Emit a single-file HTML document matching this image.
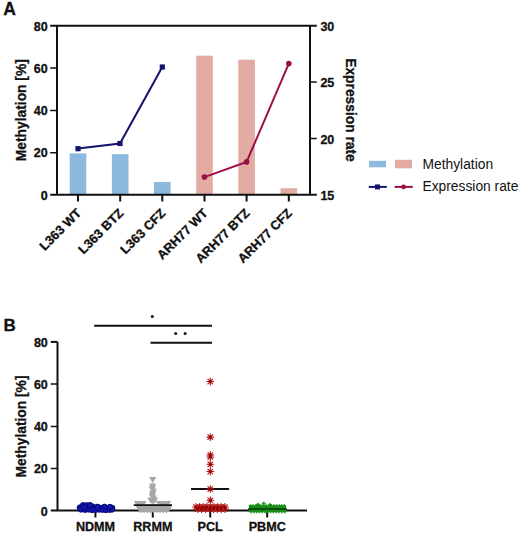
<!DOCTYPE html>
<html><head><meta charset="utf-8">
<style>
html,body{margin:0;padding:0;background:#fff;}
body{width:520px;height:534px;overflow:hidden;}
svg{display:block;}
text{font-family:"Liberation Sans",sans-serif;}
.b{font-weight:bold;fill:#111;stroke:#111;stroke-width:0.3px;}
.r{fill:#111;}
</style></head>
<body>
<svg width="520" height="534" viewBox="0 0 520 534">
<!-- Panel A -->
<text class="b" x="3.2" y="14.8" font-size="17.5">A</text>

<!-- bars -->
<g fill="#8cb9dd">
<rect x="69.7" y="153.4" width="16.6" height="41.4"/>
<rect x="111.9" y="154.2" width="16.6" height="40.6"/>
<rect x="154" y="182" width="16.6" height="12.8"/>
</g>
<g fill="#e2aca2">
<rect x="196.2" y="55.7" width="16.6" height="139.1"/>
<rect x="238.3" y="59.7" width="16.6" height="135.1"/>
<rect x="280.5" y="188.2" width="16.6" height="6.6"/>
</g>

<!-- axes A -->
<g stroke="#111" stroke-width="2" fill="none">
<path d="M57 25.8V194.8 M310 25.8V194.8 M50.2 25.8H316.8 M50.2 194.8H316.8"/>
<path d="M50.2 68.1H57 M50.2 110.5H57 M50.2 152.7H57" stroke-width="1.5"/>
<path d="M310 82.1H316.8 M310 138.5H316.8" stroke-width="1.5"/>
<path d="M78 194.8V201.6 M120.2 194.8V201.6 M162.3 194.8V201.6 M204.5 194.8V201.6 M246.6 194.8V201.6 M288.8 194.8V201.6"/>
</g>

<!-- lines A -->
<polyline points="78,148.6 120,143.5 162.3,67" fill="none" stroke="#14146e" stroke-width="2"/>
<g fill="#14146e">
<rect x="75.4" y="146.1" width="5.2" height="5.2"/>
<rect x="117.4" y="140.9" width="5.2" height="5.2"/>
<rect x="159.7" y="64.4" width="5.2" height="5.2"/>
</g>
<polyline points="204.4,177.1 246.6,161.9 288.8,63.6" fill="none" stroke="#9c1048" stroke-width="2"/>
<g fill="#9c1048">
<circle cx="204.4" cy="177.1" r="2.8"/>
<circle cx="246.6" cy="161.9" r="2.8"/>
<circle cx="288.8" cy="63.6" r="2.8"/>
</g>

<!-- tick labels A left -->
<g class="b" font-size="12.5" text-anchor="end">
<text x="47.6" y="30.8">80</text>
<text x="47.6" y="72.9">60</text>
<text x="47.6" y="115.1">40</text>
<text x="47.6" y="157.4">20</text>
<text x="47.6" y="199.8">0</text>
</g>
<g class="b" font-size="12.5">
<text x="320.4" y="30.8">30</text>
<text x="320.4" y="87.1">25</text>
<text x="320.4" y="143.5">20</text>
<text x="320.4" y="199.8">15</text>
</g>

<!-- axis titles A -->
<text class="b" font-size="13.8" text-anchor="middle" transform="translate(26,110.2) rotate(-90)">Methylation [%]</text>
<text class="b" font-size="13.8" text-anchor="middle" transform="translate(345.5,110) rotate(90)">Expression rate</text>

<!-- x labels A -->
<g class="b" font-size="12.8" text-anchor="end">
<text transform="translate(82,214) rotate(-45)">L363 WT</text>
<text transform="translate(124.2,214) rotate(-45)">L363 BTZ</text>
<text transform="translate(166.3,214) rotate(-45)">L363 CFZ</text>
<text transform="translate(208.5,214) rotate(-45)">ARH77 WT</text>
<text transform="translate(250.6,214) rotate(-45)">ARH77 BTZ</text>
<text transform="translate(292.8,214) rotate(-45)">ARH77 CFZ</text>
</g>

<!-- legend -->
<rect x="369" y="160.8" width="17" height="6.5" fill="#8cb9dd"/>
<rect x="395" y="159.8" width="17" height="8.5" fill="#e2aca2"/>
<path d="M368.7 186.9H386.8" stroke="#14146e" stroke-width="2"/>
<rect x="375" y="184.4" width="5" height="5" fill="#14146e"/>
<path d="M394.6 186.9H412.8" stroke="#9c1048" stroke-width="2"/>
<circle cx="403.6" cy="186.9" r="2.4" fill="#9c1048"/>
<g class="r" font-size="13.8">
<text x="422.5" y="168.8">Methylation</text>
<text x="422.5" y="190.8">Expression rate</text>
</g>

<!-- Panel B -->
<text class="b" x="3.6" y="331" font-size="17">B</text>

<!-- significance -->
<g stroke="#111" stroke-width="2">
<path d="M94.2 325.7H212 M150.5 342.7H212"/>
</g>
<g fill="#111">
<circle cx="152.3" cy="316.5" r="1.5"/>
<circle cx="175.7" cy="333.6" r="1.5"/>
<circle cx="185.1" cy="333.6" r="1.5"/>
</g>

<!-- axes B -->
<g stroke="#111" stroke-width="2" fill="none">
<path d="M57.5 341.9V510.6 M50.8 510.6H307"/>
<path d="M50.8 341.9H57.5" stroke-width="2"/><path d="M50.8 384.1H57.5 M50.8 426.4H57.5 M50.8 468.5H57.5" stroke-width="1.5"/>
<path d="M95.4 510.6V517.4 M152.8 510.6V517.4 M210.2 510.6V517.4 M267.2 510.6V517.4"/>
</g>

<g class="b" font-size="12.5" text-anchor="end">
<text x="47.8" y="346.9">80</text>
<text x="47.8" y="389.1">60</text>
<text x="47.8" y="431.3">40</text>
<text x="47.8" y="473.4">20</text>
<text x="47.8" y="515.6">0</text>
</g>
<text class="b" font-size="13.8" text-anchor="middle" transform="translate(26,426.5) rotate(-90)">Methylation [%]</text>

<g class="b" font-size="12.6" text-anchor="middle">
<text x="95.5" y="530.8">NDMM</text>
<text x="152.8" y="530.8">RRMM</text>
<text x="210.2" y="530.8">PCL</text>
<text x="267.2" y="530.8">PBMC</text>
</g>

<!--BDATA-->
<g fill="#1414b8" stroke="#06066c" stroke-width="0.9"><circle cx="79.8" cy="507.5" r="2.7"/><circle cx="83" cy="505.2" r="2.7"/><circle cx="86.5" cy="505.3" r="2.7"/><circle cx="89.5" cy="505.6" r="2.7"/><circle cx="92.5" cy="506.5" r="2.7"/><circle cx="96" cy="507.8" r="2.7"/><circle cx="99.5" cy="507.8" r="2.7"/><circle cx="103" cy="507.8" r="2.7"/><circle cx="106.5" cy="508.2" r="2.7"/><circle cx="109.5" cy="507.6" r="2.7"/><circle cx="112.3" cy="508" r="2.7"/><circle cx="81" cy="509.5" r="2.7"/><circle cx="85" cy="509.8" r="2.7"/><circle cx="88.5" cy="509.5" r="2.7"/><circle cx="92" cy="510" r="2.7"/><circle cx="95.5" cy="509.8" r="2.7"/><circle cx="99" cy="509.6" r="2.7"/><circle cx="102.5" cy="509.8" r="2.7"/><circle cx="106" cy="510" r="2.7"/><circle cx="109.5" cy="509.8" r="2.7"/><circle cx="112" cy="509.5" r="2.7"/><circle cx="90" cy="505.2" r="2.7"/><circle cx="84.5" cy="507.5" r="2.7"/><circle cx="97.5" cy="506.8" r="2.7"/><circle cx="104.5" cy="506.8" r="2.7"/><circle cx="110" cy="507" r="2.7"/></g>
<path fill="#a6a6a6" d="M149.1 477h7.2l-3.6 6.2zM149.1 483.5h7.2l-3.6 6.2zM148.6 486h7.2l-3.6 6.2zM149.6 488.5h7.2l-3.6 6.2zM149.1 491h7.2l-3.6 6.2zM148.6 493.5h7.2l-3.6 6.2zM149.6 495.5h7.2l-3.6 6.2zM147.2 497.5h7.2l-3.6 6.2zM151.0 497.5h7.2l-3.6 6.2zM149.1 498.5h7.2l-3.6 6.2zM133.9 501.1h7.2l-3.6 6.2zM136.9 501.1h7.2l-3.6 6.2zM139.4 501.1h7.2l-3.6 6.2zM155.9 501.1h7.2l-3.6 6.2zM158.9 501.1h7.2l-3.6 6.2zM161.9 501.1h7.2l-3.6 6.2zM163.9 501.1h7.2l-3.6 6.2zM134.9 504.5h7.2l-3.6 6.2zM138.1 504.5h7.2l-3.6 6.2zM141.3 504.5h7.2l-3.6 6.2zM144.5 504.5h7.2l-3.6 6.2zM147.7 504.5h7.2l-3.6 6.2zM150.9 504.5h7.2l-3.6 6.2zM154.1 504.5h7.2l-3.6 6.2zM157.3 504.5h7.2l-3.6 6.2zM160.5 504.5h7.2l-3.6 6.2zM163.7 504.5h7.2l-3.6 6.2zM136.1 506.2h7.2l-3.6 6.2zM139.3 506.2h7.2l-3.6 6.2zM142.5 506.2h7.2l-3.6 6.2zM145.7 506.2h7.2l-3.6 6.2zM148.9 506.2h7.2l-3.6 6.2zM152.1 506.2h7.2l-3.6 6.2zM155.3 506.2h7.2l-3.6 6.2zM158.5 506.2h7.2l-3.6 6.2zM161.7 506.2h7.2l-3.6 6.2zM164.9 506.2h7.2l-3.6 6.2zM137.3 507.4h7.2l-3.6 6.2zM140.5 507.4h7.2l-3.6 6.2zM143.7 507.4h7.2l-3.6 6.2zM146.9 507.4h7.2l-3.6 6.2zM150.1 507.4h7.2l-3.6 6.2zM153.3 507.4h7.2l-3.6 6.2zM156.5 507.4h7.2l-3.6 6.2zM159.7 507.4h7.2l-3.6 6.2zM162.9 507.4h7.2l-3.6 6.2z"/>
<path d="M133.7 505.1H172" stroke="#111" stroke-width="1.8"/>
<path d="M191 489.1H229.1" stroke="#111" stroke-width="2"/>
<path stroke="#b41818" stroke-width="1.15" stroke-linecap="round" fill="none" d="M206.9 381.5h6.8M210.3 378.1v6.8M207.9 379.1l4.8 4.8M207.9 383.9l4.8 -4.8M206.9 437.1h6.8M210.3 433.7v6.8M207.9 434.7l4.8 4.8M207.9 439.5l4.8 -4.8M206.9 455h6.8M210.3 451.6v6.8M207.9 452.6l4.8 4.8M207.9 457.4l4.8 -4.8M206.9 457h6.8M210.3 453.6v6.8M207.9 454.6l4.8 4.8M207.9 459.4l4.8 -4.8M206.9 464.2h6.8M210.3 460.8v6.8M207.9 461.8l4.8 4.8M207.9 466.6l4.8 -4.8M206.9 471.5h6.8M210.3 468.1v6.8M207.9 469.1l4.8 4.8M207.9 473.9l4.8 -4.8M206.9 489h6.8M210.3 485.6v6.8M207.9 486.6l4.8 4.8M207.9 491.4l4.8 -4.8M206.9 500.2h6.8M210.3 496.8v6.8M207.9 497.8l4.8 4.8M207.9 502.6l4.8 -4.8M192.6 507.0h6.8M196 503.6v6.8M193.6 504.6l4.8 4.8M193.6 509.4l4.8 -4.8M196.2 507.0h6.8M199.6 503.6v6.8M197.2 504.6l4.8 4.8M197.2 509.4l4.8 -4.8M199.8 507.0h6.8M203.2 503.6v6.8M200.8 504.6l4.8 4.8M200.8 509.4l4.8 -4.8M203.4 507.0h6.8M206.8 503.6v6.8M204.4 504.6l4.8 4.8M204.4 509.4l4.8 -4.8M207.0 507.0h6.8M210.4 503.6v6.8M208.0 504.6l4.8 4.8M208.0 509.4l4.8 -4.8M210.6 507.0h6.8M214.0 503.6v6.8M211.6 504.6l4.8 4.8M211.6 509.4l4.8 -4.8M214.2 507.0h6.8M217.6 503.6v6.8M215.2 504.6l4.8 4.8M215.2 509.4l4.8 -4.8M217.8 507.0h6.8M221.2 503.6v6.8M218.8 504.6l4.8 4.8M218.8 509.4l4.8 -4.8M221.4 507.0h6.8M224.8 503.6v6.8M222.4 504.6l4.8 4.8M222.4 509.4l4.8 -4.8M194.4 509.0h6.8M197.8 505.6v6.8M195.4 506.6l4.8 4.8M195.4 511.4l4.8 -4.8M198.3 509.0h6.8M201.7 505.6v6.8M199.3 506.6l4.8 4.8M199.3 511.4l4.8 -4.8M202.2 509.0h6.8M205.6 505.6v6.8M203.2 506.6l4.8 4.8M203.2 511.4l4.8 -4.8M206.1 509.0h6.8M209.5 505.6v6.8M207.1 506.6l4.8 4.8M207.1 511.4l4.8 -4.8M210.0 509.0h6.8M213.4 505.6v6.8M211.0 506.6l4.8 4.8M211.0 511.4l4.8 -4.8M213.9 509.0h6.8M217.3 505.6v6.8M214.9 506.6l4.8 4.8M214.9 511.4l4.8 -4.8M217.8 509.0h6.8M221.2 505.6v6.8M218.8 506.6l4.8 4.8M218.8 511.4l4.8 -4.8M221.7 509.0h6.8M225.1 505.6v6.8M222.7 506.6l4.8 4.8M222.7 511.4l4.8 -4.8"/>
<g fill="#8a0000"><circle cx="210.3" cy="381.5" r="1.2"/><circle cx="210.3" cy="437.1" r="1.2"/><circle cx="210.3" cy="455" r="1.2"/><circle cx="210.3" cy="457" r="1.2"/><circle cx="210.3" cy="464.2" r="1.2"/><circle cx="210.3" cy="471.5" r="1.2"/><circle cx="210.3" cy="489" r="1.2"/><circle cx="210.3" cy="500.2" r="1.2"/><circle cx="196" cy="507.0" r="1.2"/><circle cx="199.6" cy="507.0" r="1.2"/><circle cx="203.2" cy="507.0" r="1.2"/><circle cx="206.8" cy="507.0" r="1.2"/><circle cx="210.4" cy="507.0" r="1.2"/><circle cx="214.0" cy="507.0" r="1.2"/><circle cx="217.6" cy="507.0" r="1.2"/><circle cx="221.2" cy="507.0" r="1.2"/><circle cx="224.8" cy="507.0" r="1.2"/><circle cx="197.8" cy="509.0" r="1.2"/><circle cx="201.7" cy="509.0" r="1.2"/><circle cx="205.6" cy="509.0" r="1.2"/><circle cx="209.5" cy="509.0" r="1.2"/><circle cx="213.4" cy="509.0" r="1.2"/><circle cx="217.3" cy="509.0" r="1.2"/><circle cx="221.2" cy="509.0" r="1.2"/><circle cx="225.1" cy="509.0" r="1.2"/></g>
<rect x="249" y="505.5" width="37" height="6.5" fill="#1a8e1a"/>
<path stroke="#1a8e1a" stroke-width="1.4" fill="none" d="M248.7 506h3.6M250.5 504.2v3.6M251.3 506h3.6M253.1 504.2v3.6M253.9 506h3.6M255.7 504.2v3.6M256.5 506h3.6M258.3 504.2v3.6M259.1 506h3.6M260.9 504.2v3.6M261.7 506h3.6M263.5 504.2v3.6M264.3 506h3.6M266.1 504.2v3.6M266.9 506h3.6M268.7 504.2v3.6M269.5 506h3.6M271.3 504.2v3.6M272.1 506h3.6M273.9 504.2v3.6M274.7 506h3.6M276.5 504.2v3.6M277.3 506h3.6M279.1 504.2v3.6M279.9 506h3.6M281.7 504.2v3.6M282.5 506h3.6M284.3 504.2v3.6M249.2 511.5h3.6M251 509.7v3.6M252.0 511.5h3.6M253.8 509.7v3.6M254.8 511.5h3.6M256.6 509.7v3.6M257.6 511.5h3.6M259.4 509.7v3.6M260.4 511.5h3.6M262.2 509.7v3.6M263.2 511.5h3.6M265.0 509.7v3.6M266.0 511.5h3.6M267.8 509.7v3.6M268.8 511.5h3.6M270.6 509.7v3.6M271.6 511.5h3.6M273.4 509.7v3.6M274.4 511.5h3.6M276.2 509.7v3.6M277.2 511.5h3.6M279.0 509.7v3.6M280.0 511.5h3.6M281.8 509.7v3.6M282.8 511.5h3.6M284.6 509.7v3.6M262.0 503.5h3.6M263.8 501.7v3.6M256.2 504.5h3.6M258 502.7v3.6M268.2 504.8h3.6M270 503.0v3.6"/>
<path d="M248 509H287" stroke="#0a3a0a" stroke-width="1.5"/>
<!--/BDATA-->
</svg>
</body></html>
